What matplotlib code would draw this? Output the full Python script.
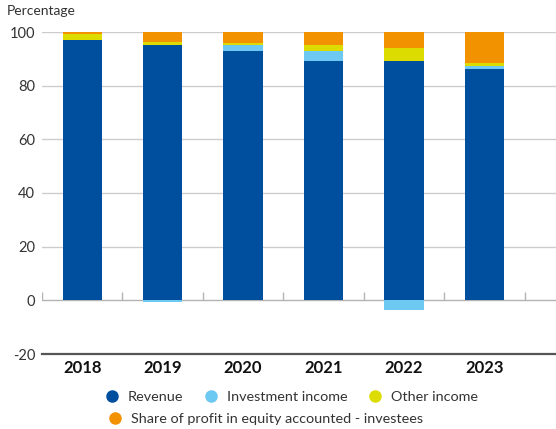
import matplotlib.pyplot as plt
from matplotlib.lines import Line2D
import numpy as np

plt.rcParams['font.family'] = ['Lato', 'DejaVu Sans']
plt.rcParams['axes.unicode_minus'] = False

# share of total income per year, in percent
years = ['2018', '2019', '2020', '2021', '2022', '2023']
revenue = [97.0, 95.1, 92.9, 89.2, 89.2, 86.2]
investment = [0.0, -0.8, 2.2, 3.7, -3.7, 1.1]
otherIncome = [2.3, 1.2, 0.8, 2.2, 4.8, 1.1]
equityShare = [0.7, 3.7, 4.1, 4.9, 6.0, 11.6]

seriesNames = ['Revenue', 'Investment income', 'Other income',
               'Share of profit in equity accounted - investees']
colours = ['#004f9f', '#6dc8f2', '#dcdc00', '#f39200']

fig = plt.figure(figsize=(5.56, 4.29), dpi=100)
ax = fig.add_axes([42/556, 1 - 354/429, 1 - 42/556, (354 - 32)/429])

x = np.arange(len(years))
posBottom = np.zeros(len(years))
negBottom = np.zeros(len(years))
for values, colour in zip([revenue, investment, otherIncome, equityShare], colours):
    values = np.array(values)
    bottom = np.where(values >= 0, posBottom, negBottom)
    ax.bar(x, values, width=0.49, bottom=bottom, color=colour, zorder=3)
    posBottom = posBottom + np.clip(values, 0, None)
    negBottom = negBottom + np.clip(values, None, 0)

# grid lines, zero line with category separators, bottom axis line
for level in [20, 40, 60, 80, 100]:
    ax.axhline(level, color='#cccccc', lw=1, zorder=1)
ax.axhline(0, color='#b3b3b3', lw=1, zorder=2)
ax.vlines(np.arange(-0.5, len(years)), 0, 3, color='#b3b3b3', lw=1, zorder=2)
ax.axhline(-20, color='#555555', lw=1.6, zorder=2, clip_on=False)

ax.set_xlim(-0.5, 5.89)
ax.set_ylim(-20, 100)
ax.set_yticks([-20, 0, 20, 40, 60, 80, 100])
ax.set_xticks(x)
ax.set_xticklabels(years, fontsize=12, fontweight='bold', color='#111111')
ax.tick_params(axis='y', length=0, pad=5, labelsize=10.5, labelcolor='#333333')
ax.tick_params(axis='x', length=0, pad=4)
for spine in ax.spines.values():
    spine.set_visible(False)

fig.text(7/556, 1 - 11/429, 'Percentage', fontsize=10, color='#333333',
         ha='left', va='center')

handles = [Line2D([], [], marker='o', ls='', markersize=8, color=c) for c in colours]
legendStyle = dict(loc='center left', frameon=False, fontsize=10.4,
                   handletextpad=0.6, handlelength=1.0, borderpad=0,
                   borderaxespad=0, labelcolor='#333333')
fig.legend(handles[:3], seriesNames[:3], ncol=3, columnspacing=1.4,
           bbox_to_anchor=(105/556, 1 - 397/429), **legendStyle)
fig.legend(handles[3:], seriesNames[3:],
           bbox_to_anchor=(108/556, 1 - 419/429), **legendStyle)

fig.savefig('out.png', dpi=100)
